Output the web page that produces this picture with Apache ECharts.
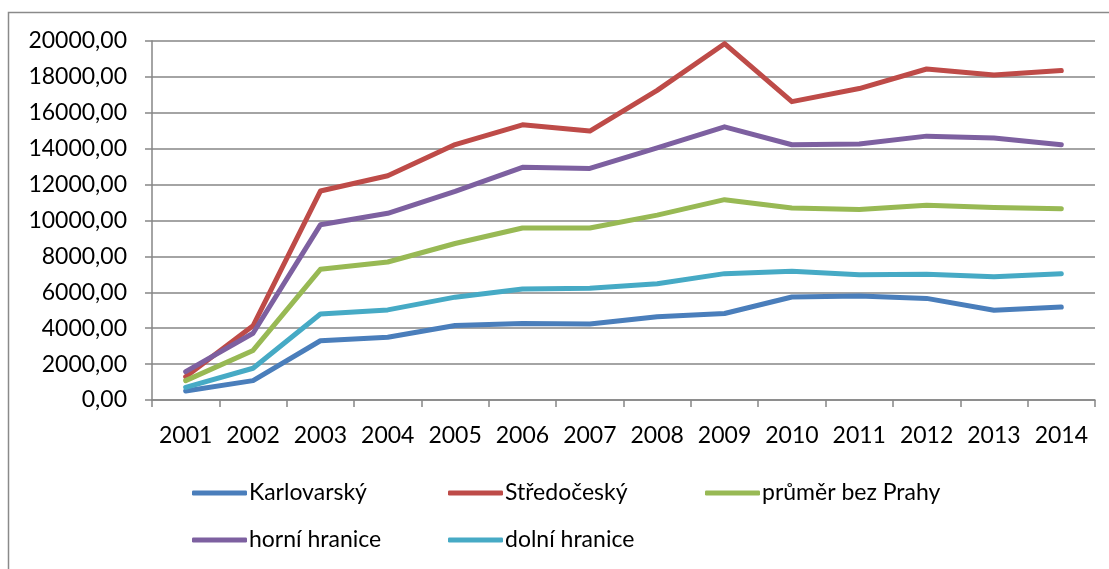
<!DOCTYPE html>
<html>
<head>
<meta charset="utf-8">
<script src="https://cdn.jsdelivr.net/npm/echarts@6/dist/echarts.min.js"></script>
<style>html,body{margin:0;padding:0;background:#fff}#c{width:1109px;height:569px}</style>
</head>
<body>
<div id="c"></div>
<script>
const years = ['2001','2002','2003','2004','2005','2006','2007','2008','2009','2010','2011','2012','2013','2014'];
const karlovarsky = [500,1080,3300,3500,4150,4260,4240,4640,4820,5740,5800,5660,5000,5180];
const stredocesky = [1300,4130,11640,12490,14230,15330,14980,17250,19850,16620,17350,18440,18100,18350];
const prumer = [1080,2760,7280,7690,8720,9580,9580,10300,11160,10700,10610,10850,10720,10650];
const horni = [1580,3720,9760,10400,11620,12960,12900,14040,15220,14220,14260,14700,14600,14220];
const dolni = [700,1770,4790,5020,5730,6180,6230,6480,7040,7170,6980,7000,6870,7040];
const seriesNames = ['Karlovarský','Středočeský','průměr bez Prahy','horní hranice','dolní hranice'];
const seriesData = [karlovarsky, stredocesky, prumer, horni, dolni];
const colors = ['#4A7EBB','#BE4B48','#98B954','#7D60A0','#46AAC5'];

const font = 'Lato, "Open Sans", sans-serif';
const chart = echarts.init(document.getElementById('c'), null, {renderer:'canvas'});
const legendBase = {
  orient: 'vertical', top: 476, itemWidth: 55, itemHeight: 5, itemGap: 23,
  icon: 'roundRect',
  textStyle: {fontFamily: font, fontSize: 23, color: '#000', lineHeight: 24, padding: [0,0,0,-3]},
  selectedMode: false
};
chart.setOption({
  animation: false,
  color: colors,
  graphic: [{type:'rect', shape:{x:8.5,y:12.5,width:1200,height:600}, style:{fill:'none', stroke:'#8a8a8a', lineWidth:1.5}, silent:true}],
  grid: {left: 152, right: 14, top: 41, bottom: 169},
  legend: [
    Object.assign({}, legendBase, {left: 187, data: [seriesNames[0], seriesNames[3]]}),
    Object.assign({}, legendBase, {left: 443, data: [seriesNames[1], seriesNames[4]]}),
    Object.assign({}, legendBase, {left: 700, data: [seriesNames[2]]})
  ],
  xAxis: {
    type: 'category', data: years, boundaryGap: true,
    axisLine: {lineStyle: {color: '#868686', width: 1.5}},
    axisTick: {show: true, length: 7, interval: 0, lineStyle: {color: '#868686', width: 1.5}},
    axisLabel: {fontFamily: font, fontSize: 23, color: '#000', margin: 24, interval: 0}
  },
  yAxis: {
    type: 'value', min: 0, max: 20000, interval: 2000,
    axisLine: {show: true, lineStyle: {color: '#868686', width: 1.5}},
    axisTick: {show: true, length: 7, lineStyle: {color: '#868686', width: 1.5}},
    splitLine: {lineStyle: {color: '#868686', width: 1.5}},
    axisLabel: {fontFamily: font, fontSize: 23, color: '#000', margin: 25,
      formatter: v => v.toFixed(2).replace('.', ',')}
  },
  series: seriesNames.map((n, i) => ({
    name: n, type: 'line', data: seriesData[i], symbol: 'none',
    lineStyle: {width: 5, color: colors[i], cap: 'round', join: 'round'},
    itemStyle: {color: colors[i]}
  }))
});
</script>
</body>
</html>
